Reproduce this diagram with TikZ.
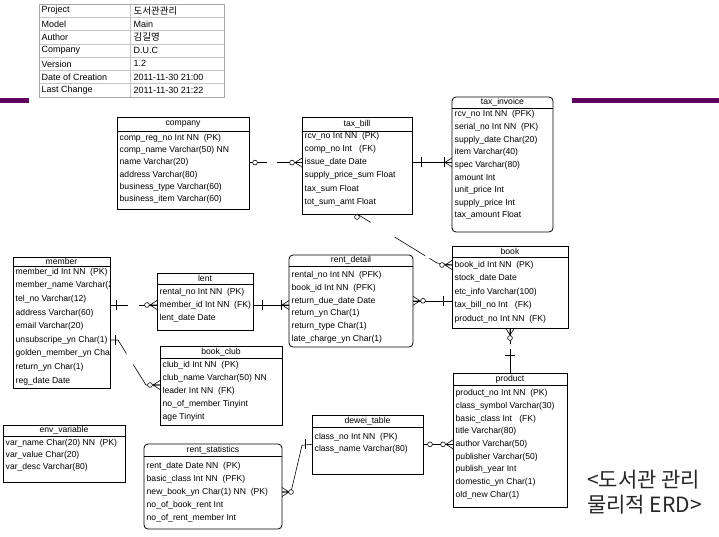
\documentclass[tikz,border=0pt]{standalone}
\usepackage{fontspec}
\setmainfont{Liberation Sans}
\newfontfamily\krfont{Noto Sans CJK KR}
\usetikzlibrary{calc,fit}

% entity box: name, style, left, top, right, bottom, title separator y, title
\newcommand\erdbox[8]{%
  \coordinate (#1-nw) at (#3,#4);
  \coordinate (#1-se) at (#5,#6);
  \node[#2, fit=(#1-nw)(#1-se)] (#1) {};
  \draw[sepline] (#3,#7) -- (#5,#7);
  \node[etitle] (#1-t) at ({(#3+#5)/2},{(#4+#7)/2}) {#8};
}
% attribute rows: name, left, first row y, row spacing, list of rows
\newcommand\erdrows[5]{%
  \foreach \txt [count=\i] in {#5}
    \node[erow] (#1-\i) at ({#2+2.5},{#3+(\i-1)*#4}) {\txt};
}

\begin{document}
\begin{tikzpicture}[x=1pt,y=-1pt,
  ebox/.style={draw=black, line width=0.8pt, fill=white, inner sep=0pt, outer sep=0pt},
  rbox/.style={ebox, rounded corners=4pt},
  sepline/.style={draw=black, line width=0.8pt},
  etitle/.style={font=\fontsize{8.6}{10}\selectfont, inner sep=0pt},
  erow/.style={font=\fontsize{8.6}{10}\selectfont, inner sep=0pt, anchor=west},
  infotext/.style={font=\fontsize{9}{10}\selectfont, inner sep=0pt, anchor=west},
  conn/.style={draw=black, line width=0.6pt},
  crowfoot/.pic={\draw[conn] (-7,0) -- (0,-4.5) (-7,0) -- (0,0) (-7,0) -- (0,4.5);},
  ringmark/.pic={\draw[conn, fill=white] (0,0) circle[radius=2.4];},
  barmark/.pic={\draw[conn] (0,-5) -- (0,5);}
]
\fill[white] (0,0) rectangle (719,537);
\useasboundingbox (0,0) rectangle (719,537);

% purple rule segments
\fill[violet!75!black] (0,98) rectangle (29,103);
\fill[violet!75!black] (572,98) rectangle (719,103);

% model information table
\foreach \k in {1,...,6}
  \draw[gray!45, line width=0.5pt] (39,{4+\k*13.29}) -- (224,{4+\k*13.29});
\draw[gray!45, line width=0.5pt] (130,4) -- (130,97);
\draw[gray!70, line width=0.8pt] (39,4) rectangle (224,97);
\foreach \key/\val [count=\i] in {
    Project/{\krfont\fontsize{9.5}{10}\selectfont 도서관관리},
    Model/Main,
    Author/{\krfont\fontsize{9.5}{10}\selectfont 김길영},
    Company/D.U.C,
    Version/1.2,
    Date of Creation/2011-11-30 21:00,
    Last Change/2011-11-30 21:22} {
  \node[infotext] (info-k\i) at (41.5,{4+(\i-0.5)*13.29}) {\key};
  \node[infotext] (info-v\i) at (133.5,{4+(\i-0.5)*13.29}) {\val};
}

% entities
\erdbox{company}{ebox}{117}{117}{249}{209}{131}{company}
\erdrows{company}{117}{138}{12.3}{comp\_reg\_no Int NN~~(PK), comp\_name Varchar(50) NN, name Varchar(20), address Varchar(80), business\_type Varchar(60), business\_item Varchar(60)}

\erdbox{taxbill}{ebox}{302}{117}{412}{214}{131}{tax\_bill}
\erdrows{taxbill}{302}{136}{13.2}{rcv\_no Int NN~~(PK), comp\_no Int~~~(FK), issue\_date Date, supply\_price\_sum Float, tax\_sum Float, tot\_sum\_amt Float}

\erdbox{taxinv}{rbox}{452}{97}{553}{232}{108}{tax\_invoice}
\erdrows{taxinv}{452}{114.5}{12.65}{rcv\_no Int NN~~(PFK), serial\_no Int NN~~(PK), supply\_date Char(20), item Varchar(40), spec Varchar(80), amount Int, unit\_price Int, supply\_price Int, tax\_amount Float}

\erdbox{member}{ebox}{13}{257}{110}{388}{266}{member}
\begin{scope}
  \clip (13,257) rectangle (109.5,388);
  \erdrows{member}{13}{272}{13.6}{member\_id Int NN~~(PK), member\_name Varchar(20), tel\_no Varchar(12), address Varchar(60), email Varchar(20), unsubscripe\_yn Char(1), golden\_member\_yn Char(1), return\_yn Char(1), reg\_date Date}
\end{scope}

\erdbox{lent}{ebox}{157}{273}{253}{330}{284}{lent}
\erdrows{lent}{157}{292}{13}{rental\_no Int NN~~(PK), member\_id Int NN~~(FK), lent\_date Date}

\erdbox{rentdet}{rbox}{289}{255}{413}{347}{266}{rent\_detail}
\erdrows{rentdet}{289}{275}{12.9}{rental\_no Int NN~~(PFK), book\_id Int NN~~(PFK), return\_due\_date Date, return\_yn Char(1), return\_type Char(1), late\_charge\_yn Char(1)}

\erdbox{book}{ebox}{452}{246}{568}{328}{257}{book}
\erdrows{book}{452}{265}{13.5}{book\_id Int NN~~(PK), stock\_date Date, etc\_info Varchar(100), tax\_bill\_no Int~~~(FK), product\_no Int NN~~(FK)}

\erdbox{bookclub}{ebox}{160}{346}{282}{425}{358}{book\_club}
\erdrows{bookclub}{160}{365}{13}{club\_id Int NN~~(PK), club\_name Varchar(50) NN, leader Int NN~~(FK), no\_of\_member Tinyint, age Tinyint}

\erdbox{product}{ebox}{453}{373}{567}{507}{385}{product}
\erdrows{product}{453}{393.5}{12.7}{product\_no Int NN~~(PK), class\_symbol Varchar(30), basic\_class Int~~~(FK), title Varchar(80), author Varchar(50), publisher Varchar(50), publish\_year Int, domestic\_yn Char(1), old\_new Char(1)}

\erdbox{envvar}{ebox}{3}{425}{125}{482}{436}{env\_variable}
\erdrows{envvar}{3}{443}{12.3}{var\_name Char(20) NN~~(PK), var\_value Char(20), var\_desc Varchar(80)}

\erdbox{rstat}{rbox}{144}{444}{282}{529}{456}{rent\_statistics}
\erdrows{rstat}{144}{466}{13}{rent\_date Date NN~~(PK), basic\_class Int NN~~(PFK), new\_book\_yn Char(1) NN~~(PK), no\_of\_book\_rent Int, no\_of\_rent\_member Int}

\erdbox{dewei}{ebox}{312}{415}{423}{474}{427}{dewei\_table}
\erdrows{dewei}{312}{437}{12}{class\_no Int NN~~(PK), class\_name Varchar(80)}

% relationships
% company -- tax_bill
\coordinate (r1a) at (company.east |- company-3);
\coordinate (r1b) at (taxbill.west |- company-3);
\draw[conn, dash pattern=on 18pt off 10pt on 80pt] (r1a) -- (r1b);
\pic at ($(r1a)+(6,0)$) {ringmark};
\pic at ($(r1b)+(-10,0)$) {ringmark};
\pic at (r1b) {crowfoot};

% tax_bill -- tax_invoice
\coordinate (r2a) at (taxbill.east |- taxbill-3);
\coordinate (r2b) at (taxinv.west |- taxbill-3);
\draw[conn] (r2a) -- (r2b);
\pic at ($(r2a)+(9,0)$) {barmark};
\pic at ($(r2b)+(-8,0)$) {barmark};
\pic at (r2b) {crowfoot};

% tax_bill -- book
\coordinate (r3a) at ($(taxbill.south west)+(55,0)$);
\coordinate (r3b) at (book.west |- book-1);
\draw[conn, dash pattern=on 16pt off 28pt on 36pt off 5pt on 40pt] (r3a) -- ($(r3b)+(-15,-2)$) -- (r3b);
\pic at ($(r3a)+(0,3)$) {ringmark};
\pic at ($(r3b)+(-10,0)$) {ringmark};
\pic at (r3b) {crowfoot};

% member -- lent
\coordinate (r4a) at (member.east |- lent-2);
\coordinate (r4b) at (lent.west |- lent-2);
\draw[conn, dash pattern=on 18pt off 11pt on 60pt] (r4a) -- (r4b);
\pic at ($(r4a)+(6,0)$) {barmark};
\pic at ($(r4b)+(-10,0)$) {ringmark};
\pic at (r4b) {crowfoot};

% member -- book_club
\coordinate (r5a) at (member.east |- member-6);
\coordinate (r5b) at ($(bookclub.west |- bookclub-3)+(0,-6)$);
\draw[conn, dash pattern=on 24pt off 13pt on 100pt] (r5a) -- ++(8,0) -- ($(r5b)+(-14,0)$) -- (r5b);
\pic at ($(r5a)+(5,0)$) {barmark};
\pic at ($(r5b)+(-10,0)$) {ringmark};
\pic at (r5b) {crowfoot};

% lent -- rent_detail
\coordinate (r6a) at (lent.east |- lent-2);
\coordinate (r6b) at (rentdet.west |- lent-2);
\draw[conn] (r6a) -- (r6b);
\pic at ($(r6a)+(9,0)$) {barmark};
\pic at ($(r6b)+(-8,0)$) {barmark};
\pic at (r6b) {crowfoot};

% rent_detail -- book
\coordinate (r7a) at (rentdet.east |- rentdet-3);
\coordinate (r7b) at (book.west |- rentdet-3);
\draw[conn] (r7a) -- (r7b);
\pic[rotate=180] at (r7a) {crowfoot};
\pic at ($(r7a)+(10,0)$) {ringmark};
\pic at ($(r7b)+(-9,0)$) {barmark};

% book -- product
\coordinate (r8a) at (book.south);
\coordinate (r8b) at (product.north);
\draw[conn, dash pattern=on 16pt off 5pt on 60pt] (r8a) -- (r8b);
\pic[rotate=90] at (r8a) {crowfoot};
\pic at ($(r8a)+(0,10)$) {ringmark};
\pic[rotate=90] at ($(r8b)+(0,-18)$) {barmark};

% dewei_table -- product
\coordinate (r9a) at (dewei.east |- product-5);
\coordinate (r9b) at (product.west |- product-5);
\draw[conn] (r9a) -- (r9b);
\pic at ($(r9a)+(7,0)$) {ringmark};
\pic at ($(r9b)+(-10,0)$) {ringmark};
\pic at (r9b) {crowfoot};

% rent_statistics -- dewei_table
\coordinate (r10a) at (rstat.east |- rstat-3);
\coordinate (r10b) at (dewei.west |- product-5);
\draw[conn] (r10a) -- ++(9,0) -- ($(r10b)+(-10,1)$) -- (r10b);
\pic[rotate=180] at (r10a) {crowfoot};
\pic at ($(r10a)+(9,0)$) {ringmark};
\pic at ($(r10b)+(-7,0)$) {barmark};

% caption
\node[font=\krfont\fontsize{21}{25}\selectfont, text=black!85, align=left, anchor=north west, inner sep=0pt] (caption) at (587,470) {<도서관 관리\\물리적 ERD>};
\end{tikzpicture}
\end{document}
